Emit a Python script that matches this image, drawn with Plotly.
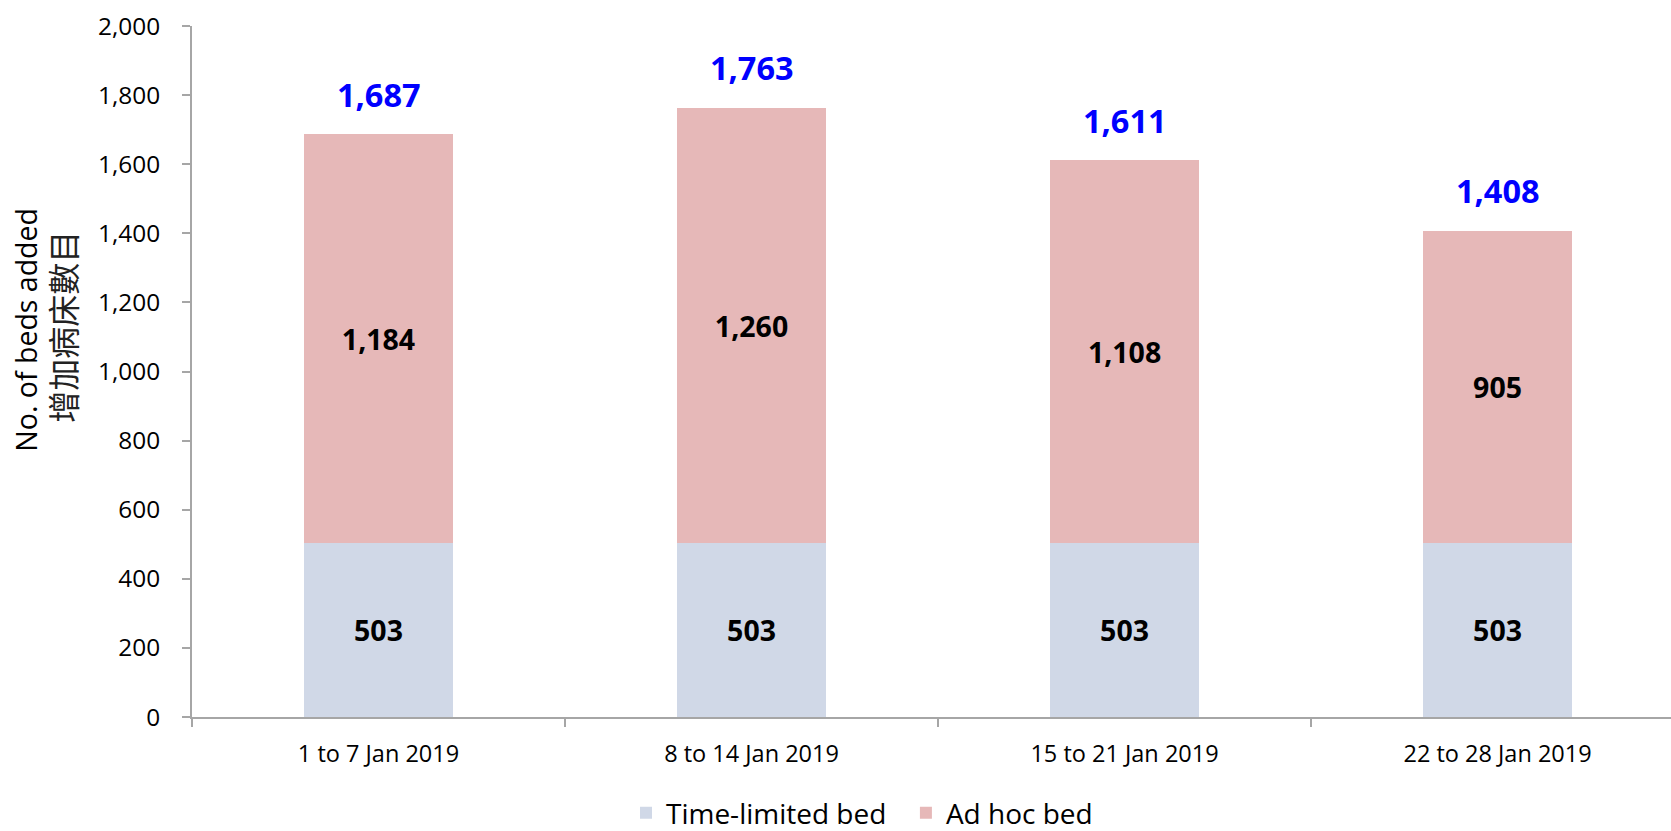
import plotly.graph_objects as go

categories = ["1 to 7 Jan 2019", "8 to 14 Jan 2019", "15 to 21 Jan 2019", "22 to 28 Jan 2019"]
time_limited = [503, 503, 503, 503]
ad_hoc = [1184, 1260, 1108, 905]
totals = [1687, 1763, 1611, 1408]

FONT = "Open Sans, Noto Sans CJK TC, sans-serif"
AXIS_COLOR = "#A6A6A6"

fig = go.Figure()
fig.add_trace(go.Bar(
    x=categories, y=time_limited, name="Time-limited bed\u00a0\u00a0",
    marker=dict(color="#D0D8E7", line=dict(width=0)),
    text=[f"{v:,}" for v in time_limited], textposition="inside",
    insidetextanchor="middle", textangle=0,
    textfont=dict(family=FONT, size=28.5, color="black", weight="bold"),
))
fig.add_trace(go.Bar(
    x=categories, y=ad_hoc, name="Ad hoc bed",
    marker=dict(color="#E6B8B8", line=dict(width=0)),
    text=[f"{v:,}" for v in ad_hoc], textposition="inside",
    insidetextanchor="middle", textangle=0,
    textfont=dict(family=FONT, size=28.5, color="black", weight="bold"),
))

annotations = []
for c, t in zip(categories, totals):
    annotations.append(dict(
        x=c, y=t, xref="x", yref="y", text=f"<b>{t:,}</b>", showarrow=False,
        yanchor="middle", yshift=40,
        font=dict(family=FONT, size=32.5, color="#0000FF"),
    ))
annotations.append(dict(
    x=-0.1125, y=0.56, xref="paper", yref="paper", text="No. of beds added",
    textangle=-90, showarrow=False, xanchor="center", yanchor="middle",
    font=dict(family=FONT, size=28.5, color="black"),
))
annotations.append(dict(
    x=-0.0885, y=0.565, xref="paper", yref="paper", text="增加病床數目",
    textangle=-90, showarrow=False, xanchor="center", yanchor="middle",
    font=dict(family="Noto Sans CJK TC, sans-serif", size=32, color="#222222"),
))

fig.update_layout(
    width=1671, height=831,
    barmode="stack", bargap=0.6,
    paper_bgcolor="white", plot_bgcolor="white",
    margin=dict(l=192, r=0, t=25.6, b=114, autoexpand=False),
    font=dict(family=FONT, size=24, color="black"),
    showlegend=True,
    legend=dict(
        orientation="h", xref="paper", yref="paper",
        x=0.453, xanchor="center", y=-0.139, yanchor="middle",
        font=dict(family=FONT, size=28, color="black"),
        traceorder="normal", itemsizing="constant",
    ),
    annotations=annotations,
    xaxis=dict(
        range=[-0.5, 3.465], showline=True, linecolor=AXIS_COLOR, linewidth=2,
        ticks="outside", tickson="boundaries", ticklen=8, tickcolor=AXIS_COLOR,
        tickwidth=2, showgrid=False, zeroline=False, ticklabelstandoff=15,
        tickangle=0, automargin=False,
        tickfont=dict(family=FONT, size=23.5, color="black"),
    ),
    yaxis=dict(
        range=[0, 2000], dtick=200, tickformat=",", showline=True,
        linecolor=AXIS_COLOR, linewidth=2, ticks="outside", ticklen=8,
        tickcolor=AXIS_COLOR, tickwidth=2, showgrid=False, zeroline=False,
        ticklabelstandoff=17, automargin=False,
        tickfont=dict(family=FONT, size=24.4, color="black"),
    ),
)

fig.write_html("out.html")
